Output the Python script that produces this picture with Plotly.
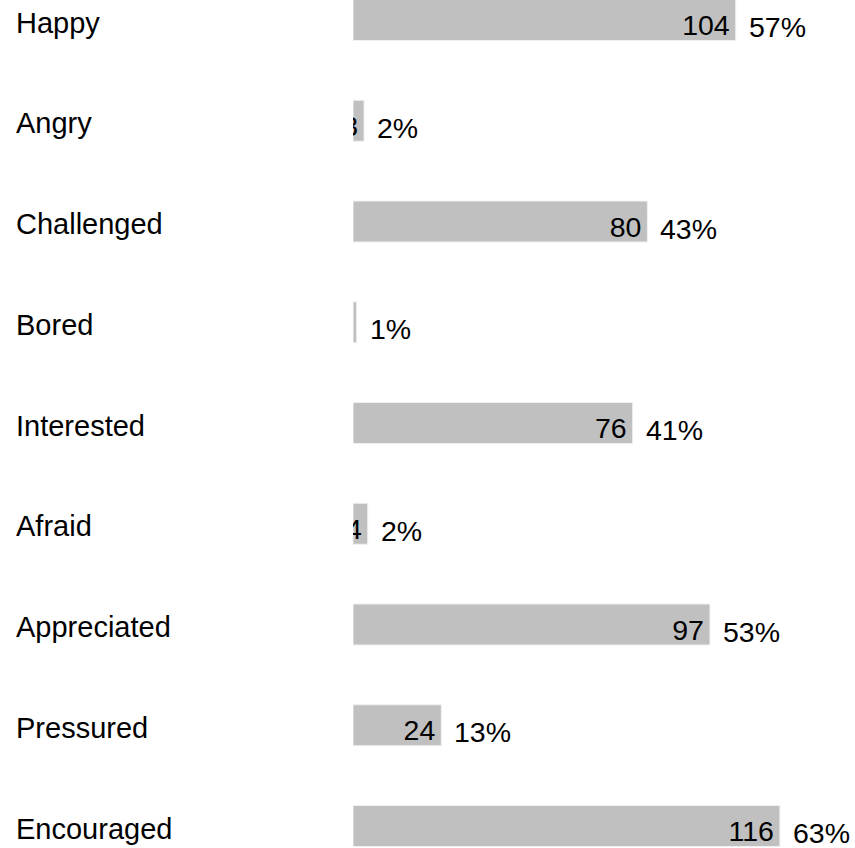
import plotly.graph_objects as go

categories = ["Happy", "Angry", "Challenged", "Bored", "Interested", "Afraid",
              "Appreciated", "Pressured", "Encouraged"]
counts = [104, 3, 80, 1, 76, 4, 97, 24, 116]
percents = ["57%", "2%", "43%", "1%", "41%", "2%", "53%", "13%", "63%"]

W, H = 855, 848
L = 353
px_per_unit = 3.68
plot_w = W - L
xmax = plot_w / px_per_unit
cat_px = 100.75
first_center = 20.0
y_top = -first_center / cat_px
y_bot = y_top + H / cat_px

ypos = list(range(len(categories)))
font = "Liberation Sans, Arial, sans-serif"
fs_num = 28.5
fs_cat = 29

fig = go.Figure()
fig.add_trace(go.Bar(
    x=counts, y=ypos, orientation="h", width=41 / cat_px,
    marker=dict(color="#c0c0c0", line=dict(color="#f0f0f0", width=1)),
    hoverinfo="skip",
))
# count labels inside bar end (clipped to plot area)
fig.add_trace(go.Scatter(
    x=[c - 6 / px_per_unit for c in counts], y=[y + 8 / cat_px for y in ypos], mode="text",
    text=[str(c) for c in counts], textposition="middle left",
    textfont=dict(family=font, size=fs_num, color="#000"),
    cliponaxis=True, hoverinfo="skip",
))
annotations = []
for i, (c, p, cat) in enumerate(zip(counts, percents, categories)):
    annotations.append(dict(x=c, y=i, xref="x", yref="y", text=p, showarrow=False,
                            xanchor="left", yanchor="middle", xshift=11, yshift=-7,
                            font=dict(family=font, size=fs_num, color="#000")))
    annotations.append(dict(x=(14 - L) / plot_w, y=i, xref="paper", yref="y", text=cat,
                            showarrow=False, xanchor="left", yanchor="middle", yshift=-2.5,
                            font=dict(family=font, size=fs_cat, color="#000")))

fig.update_layout(
    width=W, height=H,
    margin=dict(l=L, r=0, t=0, b=0),
    plot_bgcolor="white", paper_bgcolor="white",
    showlegend=False,
    xaxis=dict(range=[0, xmax], visible=False, fixedrange=True),
    yaxis=dict(range=[y_bot, y_top], visible=False, fixedrange=True),
    annotations=annotations,
)
fig.write_html("out.html", config={"displayModeBar": False},
               post_script="document.body.style.margin='0';document.body.style.overflow='hidden';")
